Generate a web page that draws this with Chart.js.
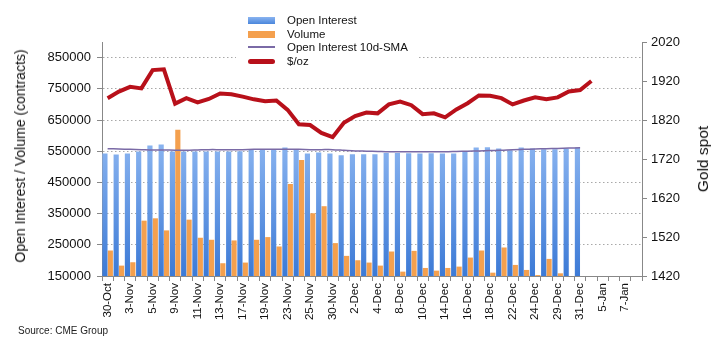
<!DOCTYPE html>
<html>
<head>
<meta charset="utf-8">
<script src="https://cdn.jsdelivr.net/npm/chart.js@4.4.1/dist/chart.umd.min.js"></script>
<style>
	body { margin: 0; background: #fff; font-family: "Liberation Sans", Arial, sans-serif; }
	#wrap { position: relative; width: 718px; height: 361px; }
	#legend { position: absolute; left: 236px; top: 11px; width: 182px; height: 56px; background: #fff; font-size: 11.5px; color: #111; }
	.row { position: absolute; left: 0; height: 14px; line-height: 14px; }
	.row span { position: absolute; left: 51px; top: 0; white-space: nowrap; }
	.sw { position: absolute; left: 12px; width: 27px; }
	.vtitle { position: absolute; transform: translate(-50%, -50%) rotate(-90deg); white-space: nowrap; color: #111; }
	#ltitle { left: 20px; top: 156px; font-size: 14px; }
	#rtitle { left: 703px; top: 159px; font-size: 15.5px; }
	#source { position: absolute; left: 18px; top: 325px; font-size: 10px; color: #222; }
</style>
</head>
<body>
<div id="wrap">
	<canvas id="myChart" width="718" height="361"></canvas>
	<div id="legend">
		<div class="row" style="top:2px"><div class="sw" style="top:4px;height:7px;background:linear-gradient(#8ab4f0,#4a86dc)"></div><span>Open Interest</span></div>
		<div class="row" style="top:16px"><div class="sw" style="top:4px;height:7px;background:#f4a04e"></div><span>Volume</span></div>
		<div class="row" style="top:29px"><div class="sw" style="top:6px;height:2px;background:#7a6aa6"></div><span>Open Interest 10d-SMA</span></div>
		<div class="row" style="top:43px"><div class="sw" style="top:5px;height:5px;border-radius:3px;background:#b8101a"></div><span>$/oz</span></div>
	</div>
	<div id="ltitle" class="vtitle">Open Interest / Volume (contracts)</div>
	<div id="rtitle" class="vtitle">Gold spot</div>
	<div id="source">Source: CME Group</div>
</div>
<script>
/*
CME gold futures: open interest, volume and spot price
*/

const dates = [
	'30-Oct', '2-Nov', '3-Nov', '4-Nov', '5-Nov', '6-Nov', '9-Nov', '10-Nov', '11-Nov', '12-Nov',
	'13-Nov', '16-Nov', '17-Nov', '18-Nov', '19-Nov', '20-Nov', '23-Nov', '24-Nov', '25-Nov', '27-Nov',
	'30-Nov', '1-Dec', '2-Dec', '3-Dec', '4-Dec', '7-Dec', '8-Dec', '9-Dec', '10-Dec', '11-Dec',
	'14-Dec', '15-Dec', '16-Dec', '17-Dec', '18-Dec', '21-Dec', '22-Dec', '23-Dec', '24-Dec', '28-Dec',
	'29-Dec', '30-Dec', '31-Dec', '4-Jan', '5-Jan', '6-Jan', '7-Jan', '8-Jan'
];

const openInterest = [
	542500, 539300, 542500, 549000, 568300, 571500, 549000, 549000, 549000, 549000,
	549000, 549000, 550000, 554300, 556500, 554300, 561800, 556500, 542500, 545700,
	542500, 537100, 540300, 540300, 540300, 544600, 544600, 543500, 542500, 543500,
	542500, 542500, 547800, 561800, 562900, 558600, 553200, 561800, 558600, 556500,
	556500, 558600, 561800, null, null, null, null, null
];

const volume = [
	231700, 183300, 194100, 327400, 334900, 296200, 618800, 330600, 272600, 266100,
	190900, 264000, 193000, 266100, 274700, 244600, 444600, 522000, 351100, 373700,
	255400, 214500, 200500, 193000, 183300, 228500, 164000, 230600, 175800, 167200,
	175800, 180100, 209100, 231700, 160700, 241400, 185500, 169400, 153000, 204800,
	158600, null, null, null, null, null, null, null
];

const oiSma = [
	558000, 557000, 556000, 555000, 554000, 554000, 553000, 553000, 554000, 555000,
	555000, 555000, 555000, 556000, 556000, 556000, 556000, 556000, 555000, 555000,
	555000, 553000, 551000, 550000, 549000, 548000, 548000, 548000, 548000, 548000,
	548000, 549000, 550000, 551000, 552000, 553000, 555000, 556000, 557000, 558000,
	559000, 560000, 561000, null, null, null, null, null
];

const goldSpot = [
	1876, 1893, 1905, 1901, 1948, 1950, 1862, 1876, 1865, 1874,
	1888, 1886, 1880, 1873, 1868, 1870, 1846, 1809, 1807, 1787,
	1776, 1813, 1830, 1839, 1837, 1860, 1867, 1858, 1835, 1837,
	1827, 1847, 1863, 1883, 1882, 1876, 1860, 1870, 1878, 1873,
	1878, 1893, 1897, 1920, null, null, null, null
];

const leftTicks = [150000, 250000, 350000, 450000, 550000, 650000, 750000, 850000];
const rightTicks = [1420, 1520, 1620, 1720, 1820, 1920, 2020];

const FONT = '"Liberation Sans", Arial, sans-serif';

function blueFill(context) {
	const area = context.chart.chartArea;
	if (!area) {
		return '#5b93e0';
	}
	const g = context.chart.ctx.createLinearGradient(0, area.top + 100, 0, area.bottom);
	g.addColorStop(0, '#8ab4f0');
	g.addColorStop(1, '#3c7ad6');
	return g;
}

const ctx = document.getElementById('myChart').getContext('2d');

const config = {
	type: 'bar',
	data: {
		labels: dates,
		datasets: [
			{
				label: '$/oz',
				type: 'line',
				data: goldSpot,
				yAxisID: 'y1',
				borderColor: '#b8101a',
				borderWidth: 4,
				pointRadius: 0,
				tension: 0,
				order: 0
			},
			{
				label: 'Open Interest 10d-SMA',
				type: 'line',
				data: oiSma,
				yAxisID: 'y',
				borderColor: '#7a6aa6',
				borderWidth: 1.5,
				pointRadius: 0,
				tension: 0.3,
				order: 1
			},
			{
				label: 'Open Interest',
				data: openInterest,
				yAxisID: 'y',
				backgroundColor: blueFill,
				categoryPercentage: 0.96,
				barPercentage: 0.96,
				order: 2
			},
			{
				label: 'Volume',
				data: volume,
				yAxisID: 'y',
				backgroundColor: '#f4a04e',
				categoryPercentage: 0.96,
				barPercentage: 0.96,
				order: 2
			}
		]
	},
	options: {
		responsive: false,
		animation: false,
		layout: { padding: { top: 42, left: 0, right: 0, bottom: 0 } },
		plugins: {
			legend: { display: false },
			tooltip: { enabled: false }
		},
		scales: {
			x: {
				offset: true,
				border: { color: '#888', width: 1 },
				grid: { offset: true, drawOnChartArea: false, tickLength: 5, tickColor: '#888' },
				ticks: {
					autoSkip: false,
					minRotation: 90,
					maxRotation: 90,
					padding: 2,
					color: '#111',
					font: { family: FONT, size: 11.5 },
					callback: function (v, i) { return i % 2 ? '' : dates[i]; }
				},
				afterFit: (scale) => { scale.height = 85; }
			},
			y: {
				position: 'left',
				min: 150000,
				max: 900000,
				border: { color: '#888', width: 1, dash: [1.5, 2.5] },
				grid: { color: '#a8a8a8', tickLength: 5, tickColor: '#888', tickBorderDash: [] },
				afterBuildTicks: (scale) => { scale.ticks = leftTicks.map(v => ({ value: v })); },
				ticks: {
					padding: 6,
					color: '#111',
					font: { family: FONT, size: 13 },
					callback: (v) => String(v)
				},
				afterFit: (scale) => { scale.width = 102; }
			},
			y1: {
				position: 'right',
				min: 1420,
				max: 2020,
				border: { color: '#888', width: 1 },
				grid: { drawOnChartArea: false, tickLength: 5, tickColor: '#888' },
				afterBuildTicks: (scale) => { scale.ticks = rightTicks.map(v => ({ value: v })); },
				ticks: {
					padding: 4,
					color: '#111',
					font: { family: FONT, size: 13 },
					callback: (v) => String(v)
				},
				afterFit: (scale) => { scale.width = 76; }
			}
		}
	}
};

const myChart = new Chart(ctx, config);
</script>
</body>
</html>
